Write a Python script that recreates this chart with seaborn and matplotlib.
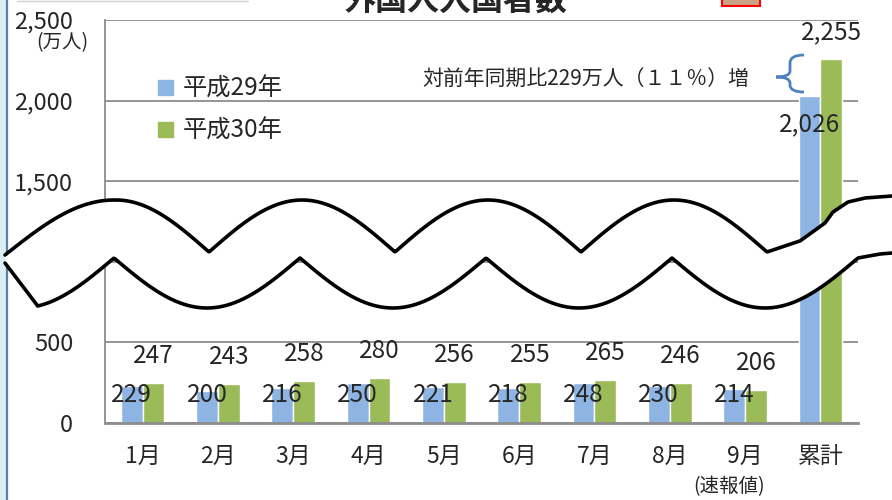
import numpy as np
import pandas as pd
import seaborn as sns
import matplotlib.pyplot as plt
import matplotlib.transforms as mtransforms
from matplotlib.path import Path
from matplotlib.patches import PathPatch, Rectangle, Polygon
from matplotlib.lines import Line2D

# ===============================
# Data
# ===============================
months = ["1月", "2月", "3月", "4月", "5月", "6月", "7月", "8月", "9月", "累計"]
h29 = [229, 200, 216, 250, 221, 218, 248, 230, 214, 2026]
h30 = [247, 243, 258, 280, 256, 255, 265, 246, 206, 2255]
series_names = ["平成29年", "平成30年"]
yticks = [0, 500, 1000, 1500, 2000, 2500]

df = pd.DataFrame({
    "month": months * 2,
    "year": [series_names[0]] * len(months) + [series_names[1]] * len(months),
    "value": h29 + h30,
})

# ===============================
# Style
# ===============================
sns.set_style("white")
plt.rcParams["font.family"] = ["Noto Sans CJK JP", "DejaVu Sans"]

BLUE = "#8db4e2"
GREEN = "#9bbb59"
GRID = "#8c8c8c"

W, H = 892, 500
fig = plt.figure(figsize=(W / 100, H / 100), dpi=100)
# pixel coords (origin top-left) -> figure
pix = mtransforms.Affine2D().scale(1 / W, -1 / H).translate(0, 1) + fig.transFigure

ax = fig.add_axes([105 / W, (H - 423) / H, 753 / W, 403 / H])
sns.barplot(data=df, x="month", y="value", hue="year", palette=[BLUE, GREEN],
            width=0.58, saturation=1, ax=ax)

ax.set_ylim(0, 2500)
ax.set_yticks(yticks)
ax.set_yticklabels([f"{t:,}" for t in yticks], fontsize=17)
ax.tick_params(axis="y", length=0, pad=23)
ax.tick_params(axis="x", length=0, pad=16, labelsize=16.5)
ax.set_xlabel("")
ax.set_ylabel("")
ax.yaxis.grid(True, color=GRID, lw=1.3)
ax.set_axisbelow(True)
for s in ["top", "right"]:
    ax.spines[s].set_visible(False)
ax.spines["left"].set_color(GRID)
ax.spines["left"].set_linewidth(1.3)
ax.spines["bottom"].set_color(GRID)
ax.spines["bottom"].set_linewidth(2)

# data labels
n = len(months)
for i, bar in enumerate(ax.containers[0]):
    cx = bar.get_x() + bar.get_width() / 2
    y = 175 if i < n - 1 else h29[i] - 170
    ax.text(cx, y, f"{h29[i]:,}", ha="center", va="center", fontsize=17.5)
for i, bar in enumerate(ax.containers[1]):
    cx = bar.get_x() + bar.get_width() / 2
    ax.text(cx, h30[i] + 168, f"{h30[i]:,}", ha="center", va="center", fontsize=17.5)

# legend
handles = [Rectangle((0, 0), 1, 1, color=BLUE), Rectangle((0, 0), 1, 1, color=GREEN)]
ax.legend(handles, series_names, loc="upper left", bbox_to_anchor=(158 / W, 1 - 76 / H),
          bbox_transform=fig.transFigure, frameon=False, fontsize=17.5, handlelength=0.6,
          handleheight=0.6, handletextpad=0.4, labelspacing=0.65, borderpad=0,
          borderaxespad=0)

# extra texts
fig.text(62 / W, 1 - 43 / H, "(万人)", ha="center", va="center", fontsize=14)
fig.text(729 / W, 1 - 487 / H, "(速報値)", ha="center", va="center", fontsize=14)
fig.text(586 / W, 1 - 80 / H, "対前年同期比229万人（１１％）増", ha="center", va="center", fontsize=15)
fig.text(456 / W, 1 - 17 / H, "外国人入国者数", ha="center", va="bottom", fontsize=23,
         fontweight="bold")

# brace
bverts = [(804, 55), (790, 55), (790, 63), (790, 71), (790, 77), (776, 77),
          (790, 77), (790, 83), (790, 85), (790, 92), (804, 92)]
bcodes = [Path.MOVETO, Path.CURVE3, Path.CURVE3, Path.LINETO, Path.CURVE3, Path.CURVE3,
          Path.CURVE3, Path.CURVE3, Path.LINETO, Path.CURVE3, Path.CURVE3]
fig.add_artist(PathPatch(Path(bverts, bcodes), transform=pix, fill=False,
                         edgecolor="#4f81bd", lw=2, zorder=5))

# page decorations
fig.add_artist(Rectangle((0, 0), 6, H, transform=pix, facecolor="#dbeef4",
                         edgecolor="none", zorder=1))
fig.add_artist(Line2D([7, 7], [0, H], transform=pix, color="#5a7fa8", lw=1.6, zorder=1))
fig.add_artist(Line2D([17, 248], [1, 1], transform=pix, color="#d0d0d0", lw=1, zorder=1))
fig.add_artist(Rectangle((722, -5), 38, 11, transform=pix, facecolor="#c9a384",
                         edgecolor="red", lw=1.5, zorder=1))

# wave break (decoration)
xt = np.linspace(5, 892, 900)
top = np.empty_like(xt)
for k, x in enumerate(xt):
    if x < 114:
        top[k] = 255 - 55 * np.sin(np.pi / 2 * (x - 5) / 109)
    elif x <= 767:
        top[k] = 252 - 52 * abs(np.sin(np.pi * (x - 209) / 186))
    else:
        top[k] = np.interp(x, [767, 800, 825, 833, 848, 865, 892],
                           [252, 241, 223, 212, 202, 198, 196])
bot = np.empty_like(xt)
for k, x in enumerate(xt):
    if x < 37:
        bot[k] = np.interp(x, [5, 37], [263, 305])
    elif x <= 858:
        bot[k] = 258 + 50 * abs(np.sin(np.pi * (x - 114) / 186))
    else:
        bot[k] = np.interp(x, [858, 880, 892], [258, 254, 253])

poly = np.vstack([np.column_stack([xt, top]), np.column_stack([xt[::-1], bot[::-1]])])
fig.add_artist(Polygon(poly, closed=True, transform=pix, facecolor="white",
                       edgecolor="none", zorder=10))
fig.add_artist(Line2D(xt, top, transform=pix, color="black", lw=2.6, zorder=11))
fig.add_artist(Line2D(xt, bot, transform=pix, color="black", lw=2.6, zorder=11))

fig.savefig("out.png", dpi=100)
